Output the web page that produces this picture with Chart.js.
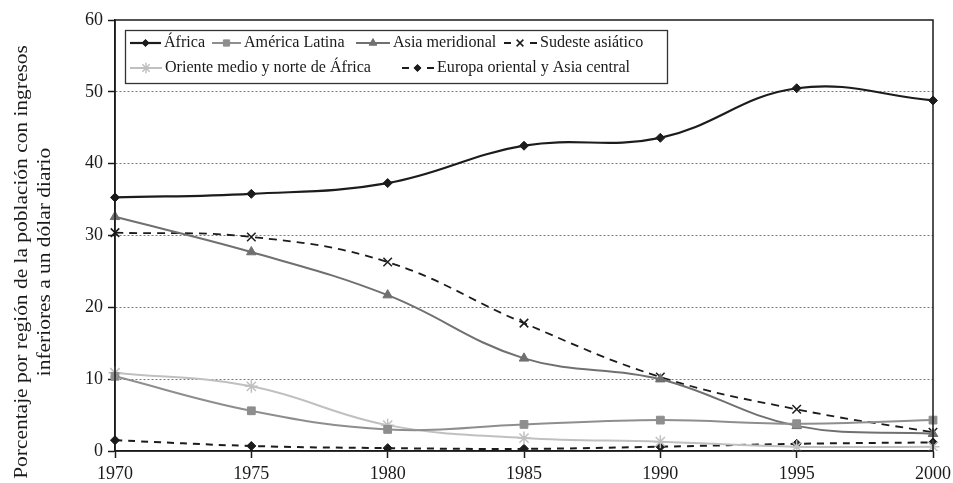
<!DOCTYPE html>
<html>
<head>
<meta charset="utf-8">
<script src="https://cdn.jsdelivr.net/npm/chart.js@4/dist/chart.umd.min.js"></script>
<style>
  html, body { margin: 0; padding: 0; background: #fff; }
  #wrap { width: 953px; height: 483px; position: relative; }
</style>
</head>
<body>
<div id="wrap"><canvas id="c" width="953" height="483"></canvas></div>
<script>
const years = ['1970', '1975', '1980', '1985', '1990', '1995', '2000'];
const africa = [35.3, 35.8, 37.3, 42.5, 43.6, 50.5, 48.8];
const americaLatina = [10.4, 5.6, 3.0, 3.7, 4.3, 3.8, 4.3];
const asiaMeridional = [32.6, 27.7, 21.7, 12.9, 10.0, 3.5, 2.4];
const sudesteAsiatico = [30.4, 29.8, 26.3, 17.8, 10.3, 5.8, 2.6];
const orienteMedio = [10.9, 9.0, 3.6, 1.8, 1.3, 0.6, 0.6];
const europaOriental = [1.5, 0.7, 0.4, 0.3, 0.6, 1.0, 1.2];
const yTicks = [0, 10, 20, 30, 40, 50, 60];
const seriesNames = ['África', 'América Latina', 'Asia meridional', 'Sudeste asiático',
  'Oriente medio y norte de África', 'Europa oriental y Asia central'];
const yTitle = ['Porcentaje por región de la población con ingresos', 'inferiores a un dólar diario'];

const FONT = '"Liberation Serif", "DejaVu Serif", serif';

function ds(label, data, color, style, radius, dash, width) {
  return {
    label, data,
    borderColor: color, backgroundColor: color,
    pointStyle: style, pointRadius: radius, pointHoverRadius: radius,
    pointBorderColor: color, pointBackgroundColor: color,
    pointBorderWidth: (style === 'crossRot' || style === 'star') ? 1.5 : 1,
    borderWidth: width, borderDash: dash, tension: 0.4, fill: false
  };
}

const datasets = [
  ds(seriesNames[0], africa, '#1c1c1c', 'rectRot', 4.5, [], 2.2),
  ds(seriesNames[1], americaLatina, '#8e8e8e', 'rect', 5.5, [], 2),
  ds(seriesNames[2], asiaMeridional, '#707070', 'triangle', 5.5, [], 2),
  ds(seriesNames[3], sudesteAsiatico, '#1c1c1c', 'crossRot', 6, [8, 6], 1.8),
  ds(seriesNames[4], orienteMedio, '#c0c0c0', 'star', 6.5, [], 2),
  ds(seriesNames[5], europaOriental, '#1c1c1c', 'rectRot', 4.5, [7, 6], 2)
];

// legend layout (positions in px)
const legendRows = [[0, 1, 2, 3], [4, 5]];
const legendRowY = [43, 68];
const legendSampleX = [[130, 212, 356, 503], [130, 401]];
const legendTextX = [[164, 244, 393, 540], [165, 437]];

const titlePlugin = {
  id: 'yTitleText',
  afterDraw(chart) {
    const ctx = chart.ctx;
    const xs = [22, 45];
    const cy = 262;
    ctx.save();
    ctx.fillStyle = '#1a1a1a';
    ctx.font = '18px ' + FONT;
    ctx.textAlign = 'center';
    ctx.textBaseline = 'middle';
    yTitle.forEach((line, i) => {
      ctx.save();
      ctx.translate(xs[i], cy);
      ctx.rotate(-Math.PI / 2);
      ctx.scale(1.19, 1);
      ctx.fillText(line, 0, 0);
      ctx.restore();
    });
    ctx.restore();
  }
};

const legendPlugin = {
  id: 'boxLegend',
  afterDraw(chart) {
    const ctx = chart.ctx;
    const ca = chart.chartArea;
    ctx.save();
    // frame around plot area
    ctx.strokeStyle = '#1a1a1a';
    ctx.lineWidth = 1.5;
    ctx.strokeRect(ca.left, ca.top, ca.right - ca.left, ca.bottom - ca.top);
    // legend box
    const bx = 125.5, by = 30.5, bw = 542, bh = 53;
    ctx.fillStyle = '#fff';
    ctx.fillRect(bx, by, bw, bh);
    ctx.strokeStyle = '#333';
    ctx.lineWidth = 1.3;
    ctx.strokeRect(bx, by, bw, bh);
    ctx.font = '16.1px ' + FONT;
    ctx.textBaseline = 'middle';
    legendRows.forEach((row, ri) => {
      row.forEach((i, k) => {
        const d = chart.data.datasets[i];
        const y = legendRowY[ri];
        const x0 = legendSampleX[ri][k];
        const x1 = legendTextX[ri][k] - 3;
        const mid = (x0 + x1) / 2;
        ctx.save();
        ctx.strokeStyle = d.borderColor;
        ctx.lineWidth = d.borderWidth;
        ctx.beginPath();
        if (d.borderDash.length) {
          ctx.moveTo(x0 + 1, y); ctx.lineTo(x0 + 8, y);
          ctx.moveTo(x1 - 7, y); ctx.lineTo(x1, y);
        } else {
          ctx.moveTo(x0, y); ctx.lineTo(x1, y);
        }
        ctx.stroke();
        ctx.restore();
        ctx.save();
        ctx.fillStyle = d.pointBackgroundColor;
        ctx.strokeStyle = d.pointBorderColor;
        ctx.lineWidth = d.pointBorderWidth;
        Chart.helpers.drawPoint(ctx, { pointStyle: d.pointStyle, radius: d.pointRadius * 0.8, rotation: 0, borderWidth: d.pointBorderWidth }, mid, y);
        ctx.restore();
        ctx.fillStyle = '#1a1a1a';
        ctx.fillText(d.label, legendTextX[ri][k], y);
      });
    });
    ctx.restore();
  }
};

new Chart(document.getElementById('c'), {
  type: 'line',
  data: { labels: years, datasets },
  plugins: [legendPlugin, titlePlugin],
  options: {
    responsive: false,
    animation: false,
    layout: { padding: { top: 20, right: 20, left: 0, bottom: 0 } },
    plugins: { legend: { display: false }, tooltip: { enabled: false } },
    scales: {
      x: {
        type: 'category',
        offset: false,
        afterFit(s) { s.height = 32; s.paddingLeft = 0; s.paddingRight = 0; },
        grid: { drawOnChartArea: false, drawTicks: true, tickLength: 7, tickColor: '#1a1a1a', tickWidth: 1.5 },
        border: { display: true, color: '#1a1a1a', width: 1.5 },
        ticks: { color: '#1a1a1a', font: { family: FONT, size: 18 }, padding: 5, maxRotation: 0, autoSkip: false }
      },
      y: {
        min: 0, max: 60,
        afterFit(s) { s.width = 115; s.paddingTop = 0; s.paddingBottom = 0; },
        afterBuildTicks(s) { s.ticks = yTicks.map(v => ({ value: v })); },
        grid: {
          color: c => (c.tick && (c.tick.value === 0 || c.tick.value === 60)) ? 'rgba(0,0,0,0)' : '#7a7a7a',
          lineWidth: 1, tickLength: 7, tickColor: '#1a1a1a', tickWidth: 1.5
        },
        border: { display: true, color: '#1a1a1a', width: 1.5, dash: [2, 2] },
        ticks: { color: '#1a1a1a', font: { family: FONT, size: 18 }, padding: 5 },
        title: { display: false }
      }
    }
  }
});
</script>
</body>
</html>
